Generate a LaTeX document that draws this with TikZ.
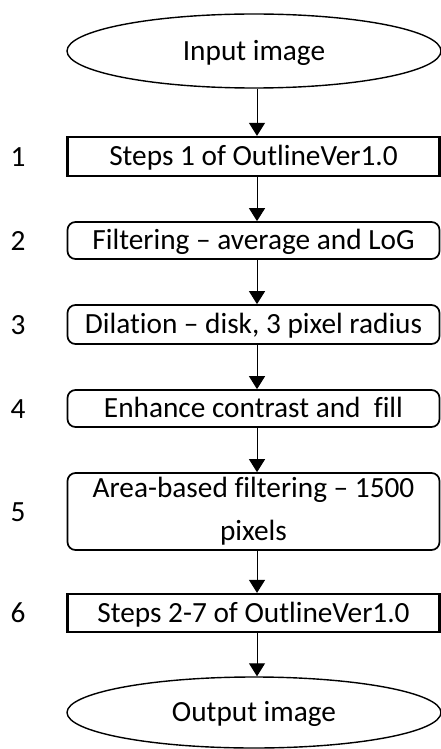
\documentclass[tikz,border=0pt]{standalone}
\usepackage{fontspec}
\setmainfont{Carlito}[RawFeature=-liga]
\usetikzlibrary{shapes.geometric,arrows.meta}

\begin{document}
\begin{tikzpicture}[x=1pt,y=-1pt,
  every node/.style={font=\fontsize{29.3}{43}\selectfont, inner sep=0pt},
  capcentre/.style={text height=18.9pt, text depth=0pt},
  term/.style={ellipse, draw, line width=1.4pt, minimum width=374pt, capcentre},
  plainbox/.style={rectangle, draw, line width=2.2pt, minimum width=372pt, align=center, capcentre},
  roundbox/.style={rectangle, rounded corners=8pt, draw, line width=1.7pt, minimum width=372pt, align=center},
  num/.style={anchor=center, capcentre},
  flow/.style={line width=1pt, -{Triangle[width=16pt,length=13pt]}}]

  \useasboundingbox (0,0) rectangle (441,749);

  % start and end terminals
  \node[term, minimum height=74pt] (in)  at (254,51)    {Input image};
  \node[term, minimum height=71pt] (out) at (254,712.5) {Output image};

  % processing steps
  \node[plainbox, minimum height=39pt] (s1) at (253.5,156.5) {Steps 1 of OutlineVer1.0};
  \node[roundbox, capcentre, minimum height=37pt] (s2) at (253.5,240.5) {Filtering -- average and LoG};
  \node[roundbox, capcentre, minimum height=39pt] (s3) at (253.5,324.5) {Dilation -- disk, 3 pixel radius};
  \node[roundbox, capcentre, minimum height=37pt] (s4) at (253.5,408.5) {Enhance contrast and\ \ fill};
  \node[roundbox, minimum height=77pt] (s5) at (253.5,511.5) {Area-based filtering -- 1500\\pixels};
  \node[plainbox, minimum height=38pt] (s6) at (253.5,613) {Steps 2-7 of OutlineVer1.0};

  % step numbers
  \node[num] (n1) at (18,157) {1};
  \node[num] (n2) at (18,241) {2};
  \node[num] (n3) at (18,325) {3};
  \node[num] (n4) at (18,409) {4};
  \node[num] (n5) at (18,512) {5};
  \node[num] (n6) at (18,613) {6};

  % vertical line of the flow
  \coordinate (ax) at (257,0);
  \draw[flow] (in.south -| ax) -- (s1.north -| ax);
  \draw[flow] (s1.south -| ax) -- (s2.north -| ax);
  \draw[flow] (s2.south -| ax) -- (s3.north -| ax);
  \draw[flow] (s3.south -| ax) -- (s4.north -| ax);
  \draw[flow] (s4.south -| ax) -- (s5.north -| ax);
  \draw[flow] (s5.south -| ax) -- (s6.north -| ax);
  \draw[flow] (s6.south -| ax) -- (out.north -| ax);
\end{tikzpicture}
\end{document}
